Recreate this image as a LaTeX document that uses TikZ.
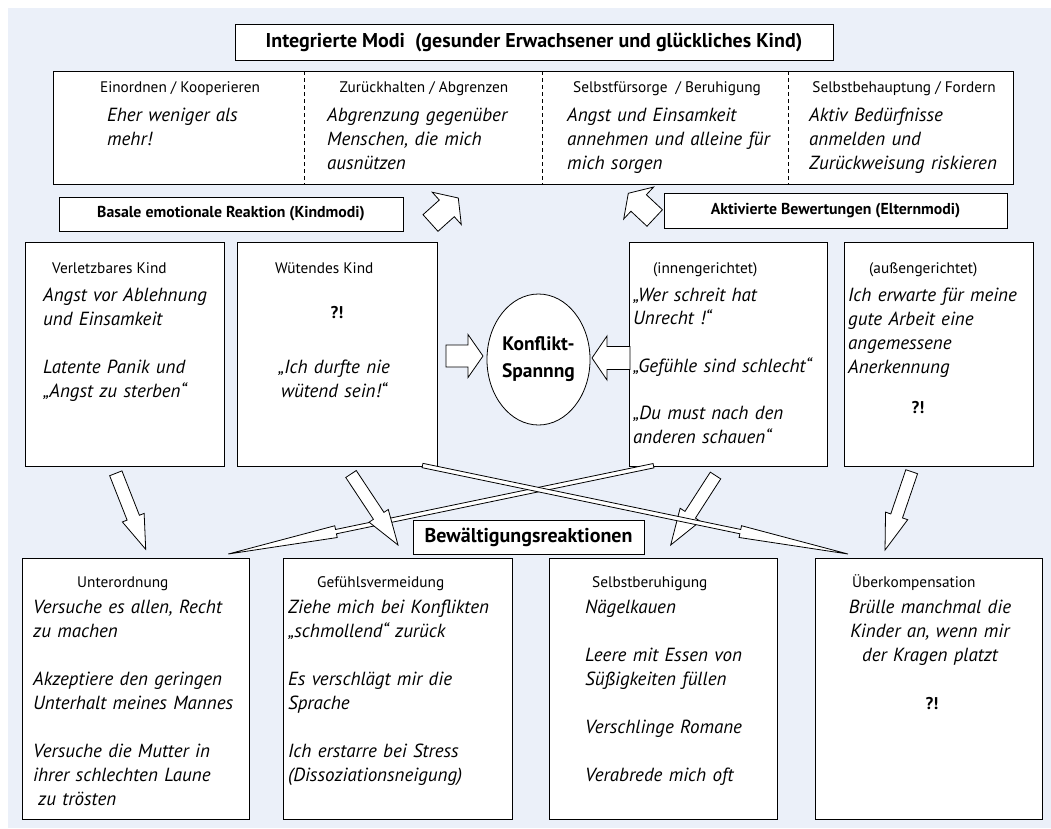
\documentclass[tikz,border=0pt]{standalone}
\usepackage{fontspec}
\setmainfont{PT Sans}
\usetikzlibrary{calc,shapes.geometric}
\definecolor{bgblue}{RGB}{235,240,249}
\newcommand\fz[2]{\fontsize{#1}{#2}\selectfont}
% block arrow: #1 tail, #2 tip, #3 half body width, #4 half head width, #5 head length
\newcommand\blockarrow[5]{%
  \coordinate (ba-h) at ($(#2)!#5!(#1)$);
  \draw[arrowshape] ($(#1)!#3!90:(#2)$) -- ($(ba-h)!#3!90:(#2)$) -- ($(ba-h)!#4!90:(#2)$) -- (#2)
    -- ($(ba-h)!#4!-90:(#2)$) -- ($(ba-h)!#3!-90:(#2)$) -- ($(#1)!#3!-90:(#2)$) -- cycle;
}
\begin{document}
\begin{tikzpicture}[x=1pt,y=-1pt,
  box/.style={draw, fill=white, line width=0.8pt, inner sep=0pt},
  divider/.style={line width=0.8pt, dash pattern=on 4pt off 3pt},
  arrowshape/.style={draw=black, fill=white, line width=0.8pt, line join=miter},
  hdr/.style={font=\fz{15.3}{18}, inner sep=0pt, anchor=base},
  hdrw/.style={font=\fz{15.3}{18}, inner sep=0pt, anchor=base west},
  itx/.style={font=\fz{19}{24}\itshape, inner sep=0pt, anchor=base west, text width=300pt, align=left},
  itc/.style={font=\fz{19}{24}\itshape, inner sep=0pt, anchor=base, text width=240pt, align=center},
  bold/.style={font=\fz{15.8}{18}\bfseries},
  qm/.style={font=\fz{17}{18}\bfseries, inner sep=0pt, anchor=base}]
\useasboundingbox (0,0) rectangle (1051,828);
\fill[bgblue] (8,8) rectangle (1051,828);

% ---------- top
\node[box, minimum width=598pt, minimum height=36pt, font=\fz{20}{22}\bfseries] (title) at (534,42) {Integrierte Modi~ (gesunder Erwachsener und glückliches Kind)};
\node[box, minimum width=960pt, minimum height=113pt] (modi) at (533,127.5) {};
\draw[divider] (304,71) -- (304,184);
\draw[divider] (542,71) -- (542,184);
\draw[divider] (788,71) -- (788,184);

\node[hdr] (h1) at (180,92) {Einordnen / Kooperieren};
\node[itx] (t1) at (107,121) {Eher weniger als\\mehr!};
\node[hdr] (h2) at (424,92) {Zurückhalten / Abgrenzen};
\node[itx] (t2) at (327,121) {Abgrenzung gegenüber\\Menschen, die mich\\ausnützen};
\node[hdr] (h3) at (667,92) {Selbstfürsorge~ / Beruhigung};
\node[itx] (t3) at (567,121) {Angst und Einsamkeit\\annehmen und alleine für\\mich sorgen};
\node[hdr] (h4) at (904,92) {Selbstbehauptung / Fordern};
\node[itx] (t4) at (809,121) {Aktiv Bedürfnisse\\anmelden und\\Zurückweisung riskieren};

\node[box, bold, minimum width=344pt, minimum height=34pt] (basale) at (231,214) {Basale emotionale Reaktion (Kindmodi)};
\node[box, bold, minimum width=343pt, minimum height=35pt] (aktiv) at (835.5,210.5) {Aktivierte Bewertungen (Elternmodi)};

% ---------- middle
\node[box, minimum width=199pt, minimum height=224pt] (vk) at (124.5,354) {};
\node[box, minimum width=200pt, minimum height=224pt] (wk) at (337,354) {};
\node[box, minimum width=198pt, minimum height=224pt] (innen) at (728,354) {};
\node[box, minimum width=189pt, minimum height=224pt] (aussen) at (938.5,354) {};
\node[box, ellipse, minimum width=103pt, minimum height=131pt, inner sep=0pt, font=\fz{19.5}{27}\bfseries, align=center] (konf) at (538.5,359.5) {Konflikt-\\Spannng};

\node[hdrw] (vkh) at (52,273) {Verletzbares Kind};
\node[itx] (vkt) at (43,301) {Angst vor Ablehnung\\und Einsamkeit\\[24pt]Latente Panik und\\„Angst zu sterben“};
\node[hdrw] (wkh) at (275,273) {Wütendes Kind};
\node[qm] (wkq) at (337,318) {?!};
\node[itc] (wkt) at (334,373) {„Ich durfte nie\\wütend sein!“};
\node[hdrw] (inh) at (653,273) {(innengerichtet)};
\node[itx, font=\fz{19}{23.7}\itshape] (int) at (633,301) {„Wer schreit hat\\Unrecht !“\\[23.7pt]„Gefühle sind schlecht“\\[23.7pt]„Du must nach den\\anderen schauen“};
\node[hdrw] (auh) at (869,273) {(außengerichtet)};
\node[itx] (aut) at (848,301) {Ich erwarte für meine\\gute Arbeit eine\\angemessene\\Anerkennung};
\node[qm] (auq) at (918,413) {?!};

% ---------- bottom
\node[box, font=\fz{20}{22}\bfseries, minimum width=231pt, minimum height=34pt] (bew) at (528.5,537) {Bewältigungsreaktionen};
\node[box, minimum width=227pt, minimum height=261pt] (unter) at (135.5,688.5) {};
\node[box, minimum width=229pt, minimum height=261pt] (gef) at (397.5,688.5) {};
\node[box, minimum width=228pt, minimum height=261pt] (selbst) at (663,688.5) {};
\node[box, minimum width=227pt, minimum height=261pt] (ueber) at (928.5,688.5) {};

\node[hdrw] (unh) at (77,587) {Unterordnung};
\node[itx] (unt) at (33,613) {Versuche es allen, Recht\\zu machen\\[24pt]Akzeptiere den geringen\\Unterhalt meines Mannes\\[24pt]Versuche die Mutter in\\ihrer schlechten Laune\\\hspace*{5pt}zu trösten};
\node[hdrw] (geh) at (317,587) {Gefühlsvermeidung};
\node[itx] (get) at (288,613) {Ziehe mich bei Konflikten\\„schmollend“ zurück\\[24pt]Es verschlägt mir die\\Sprache\\[24pt]Ich erstarre bei Stress\\(Dissoziationsneigung)};
\node[hdrw] (seh) at (592,587) {Selbstberuhigung};
\node[itx] (set) at (585,613) {Nägelkauen\\[24pt]Leere mit Essen von\\Süßigkeiten füllen\\[24pt]Verschlinge Romane\\[24pt]Verabrede mich oft};
\node[hdrw] (ueh) at (852,587) {Überkompensation};
\node[itc] (uet) at (930,613) {Brülle manchmal die\\Kinder an, wenn mir\\der Kragen platzt};
\node[qm] (ueq) at (932,709) {?!};

% ---------- arrows
\coordinate (a1t) at (430.5,223); \coordinate (a1h) at (458.3,198);
\blockarrow{a1t}{a1h}{11.2pt}{21.7pt}{15.5pt}
\coordinate (a2t) at (654.7,218); \coordinate (a2h) at (628.3,193.3);
\blockarrow{a2t}{a2h}{11.3pt}{21.9pt}{14.2pt}
\coordinate (h1t) at (446,356); \coordinate (h1h) at (483,356);
\blockarrow{h1t}{h1h}{11pt}{21.5pt}{15pt}
\coordinate (h2t) at (630,358); \coordinate (h2h) at (592,358);
\blockarrow{h2t}{h2h}{11.5pt}{22pt}{15pt}

\coordinate (l2t) at (653.5,465.7); \coordinate (l2h) at (228.3,554);
\blockarrow{l2t}{l2h}{2.2pt}{6pt}{110pt}
\coordinate (d1t) at (115.8,473.3); \coordinate (d1h) at (145.7,549.3);
\blockarrow{d1t}{d1h}{6.6pt}{11.7pt}{34pt}
\coordinate (d2t) at (351,474); \coordinate (d2h) at (398,545);
\blockarrow{d2t}{d2h}{6.3pt}{11.5pt}{35pt}
\coordinate (d3t) at (715.5,475.5); \coordinate (d3h) at (670.7,545);
\blockarrow{d3t}{d3h}{6.2pt}{12pt}{36pt}
\coordinate (d4t) at (911.7,471.7); \coordinate (d4h) at (885,550);
\blockarrow{d4t}{d4h}{6.2pt}{11.7pt}{36pt}
\coordinate (l1t) at (422.5,465.5); \coordinate (l1h) at (848,554);
\blockarrow{l1t}{l1h}{2.2pt}{6pt}{110pt}
\end{tikzpicture}
\end{document}
